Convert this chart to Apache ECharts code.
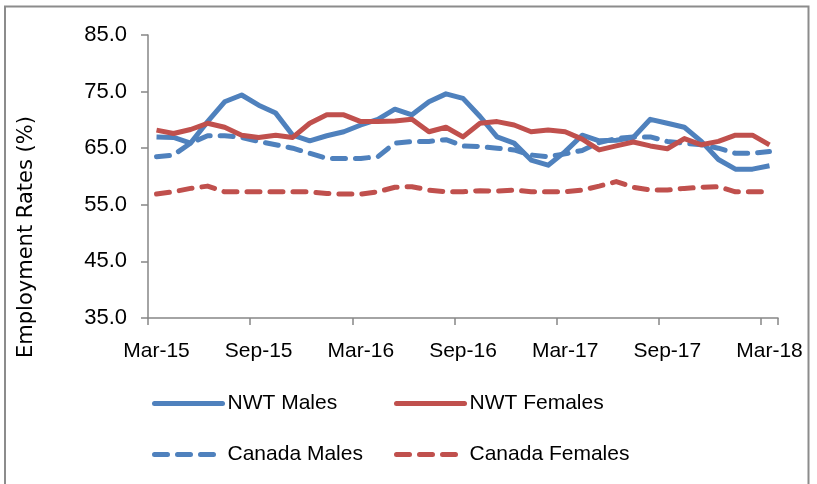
<!DOCTYPE html>
<html>
<head>
<meta charset="utf-8">
<script src="https://cdn.jsdelivr.net/npm/echarts@6/dist/echarts.min.js"></script>
<style>
html,body{margin:0;padding:0;background:#fff;}
#chart{width:817px;height:484px;}
</style>
</head>
<body>
<div id="chart"></div>
<script>
const months = ['Mar','Apr','May','Jun','Jul','Aug','Sep','Oct','Nov','Dec','Jan','Feb'];
const categories = [];
(function(){
  // Mar-15 .. Mar-18 monthly
  let yr = 15;
  for (let i = 0; i < 37; i++) {
    const m = months[i % 12];
    if (m === 'Jan' && i > 0) yr++;
    categories.push(m + '-' + yr);
  }
})();

const nwtMales = [67.0, 66.9, 65.9, 69.7, 73.2, 74.4, 72.6, 71.2, 67.3, 66.3, 67.2, 67.9,
  69.1, 70.1, 71.9, 70.9, 73.2, 74.6, 73.8, 70.6, 67.0, 65.9, 62.9, 62.0,
  64.4, 67.3, 66.3, 66.4, 66.9, 70.1, 69.4, 68.7, 66.2, 63.0, 61.3, 61.3, 61.9];
const nwtFemales = [68.2, 67.6, 68.3, 69.4, 68.7, 67.3, 66.9, 67.3, 66.9, 69.4, 70.9, 70.9,
  69.7, 69.7, 69.8, 70.1, 67.9, 68.7, 67.0, 69.4, 69.7, 69.1, 67.9, 68.2,
  67.9, 66.6, 64.7, 65.4, 66.1, 65.4, 64.9, 66.7, 65.6, 66.2, 67.3, 67.3, 65.6];
const canadaMales = [63.5, 63.8, 65.9, 67.2, 67.2, 66.9, 66.2, 65.6, 65.0, 64.1, 63.2, 63.2,
  63.2, 63.5, 65.9, 66.2, 66.2, 66.5, 65.4, 65.3, 65.0, 64.7, 63.8, 63.5,
  64.0, 64.6, 66.0, 66.7, 67.0, 67.0, 66.2, 65.9, 65.6, 65.0, 64.1, 64.1, 64.4];
const canadaFemales = [56.9, 57.3, 57.9, 58.3, 57.3, 57.3, 57.3, 57.3, 57.3, 57.3, 57.0, 56.9,
  56.9, 57.3, 58.1, 58.2, 57.6, 57.3, 57.3, 57.5, 57.4, 57.6, 57.3, 57.3,
  57.3, 57.6, 58.3, 59.1, 58.1, 57.6, 57.6, 57.9, 58.1, 58.2, 57.3, 57.3, 57.3];

const seriesNames = ['NWT Males', 'NWT Females', 'Canada Males', 'Canada Females'];
const yTicks = { min: 35, max: 85, interval: 10 };

const BLUE = '#4F81BD', RED = '#C0504D';
const AXIS = '#868686';
const FONT = 'Liberation Sans';
const DASH = [13, 10];

function mkSeries(name, data, color, dashed) {
  return {
    name: name, type: 'line', data: data, symbol: 'none', smooth: false,
    lineStyle: { color: color, width: 5, type: dashed ? DASH : 'solid', cap: dashed ? 'round' : 'butt', join: 'round' },
    itemStyle: { color: color },
    z: dashed ? 2 : 3
  };
}

function mkLegend(name, left, top, color, dashed) {
  return {
    data: [name], left: left, top: top, orient: 'horizontal',
    itemWidth: 68, itemHeight: 14, itemGap: 6, padding: 0,
    itemStyle: { opacity: 0 },
    lineStyle: { color: color, width: 5, type: dashed ? DASH : 'solid', cap: 'round' },
    textStyle: { fontFamily: FONT, fontSize: 21, color: '#000' }
  };
}

const chart = echarts.init(document.getElementById('chart'), null, { renderer: 'canvas' });
chart.setOption({
  animation: false,
  backgroundColor: '#fff',
  grid: { left: 148, right: 39, top: 35, bottom: 166, containLabel: false },
  xAxis: {
    type: 'category', data: categories, boundaryGap: true,
    axisLine: { lineStyle: { color: AXIS, width: 1.5 } },
    axisTick: { show: true, interval: 5, length: 7, lineStyle: { color: AXIS, width: 1.5 } },
    axisLabel: { interval: 5, margin: 23, fontFamily: FONT, fontSize: 21, color: '#000' },
    splitLine: { show: false }
  },
  yAxis: {
    type: 'value', min: yTicks.min, max: yTicks.max, interval: yTicks.interval,
    axisLine: { show: true, lineStyle: { color: AXIS, width: 1.5 } },
    axisTick: { show: true, length: 7, lineStyle: { color: AXIS, width: 1.5 } },
    axisLabel: { margin: 21, fontFamily: FONT, fontSize: 22, color: '#000',
      formatter: v => v.toFixed(1) },
    splitLine: { show: false }
  },
  legend: [
    mkLegend(seriesNames[0], 152, 393, BLUE, false),
    mkLegend(seriesNames[1], 394, 393, RED, false),
    mkLegend(seriesNames[2], 152, 444, BLUE, true),
    mkLegend(seriesNames[3], 394, 444, RED, true)
  ],
  series: [
    mkSeries(seriesNames[0], nwtMales, BLUE, false),
    mkSeries(seriesNames[1], nwtFemales, RED, false),
    mkSeries(seriesNames[2], canadaMales, BLUE, true),
    mkSeries(seriesNames[3], canadaFemales, RED, true)
  ],
  graphic: [
    { type: 'rect', shape: { x: 5, y: 6.5, width: 803.5, height: 500 },
      style: { fill: 'none', stroke: '#8c8c8c', lineWidth: 2 }, silent: true },
    { type: 'text', x: 27, y: 237, rotation: Math.PI / 2,
      style: { text: 'Employment Rates (%)', fontFamily: 'DejaVu Sans', fontSize: 21,
        fill: '#000', align: 'center', verticalAlign: 'middle' } }
  ]
});
</script>
</body>
</html>
